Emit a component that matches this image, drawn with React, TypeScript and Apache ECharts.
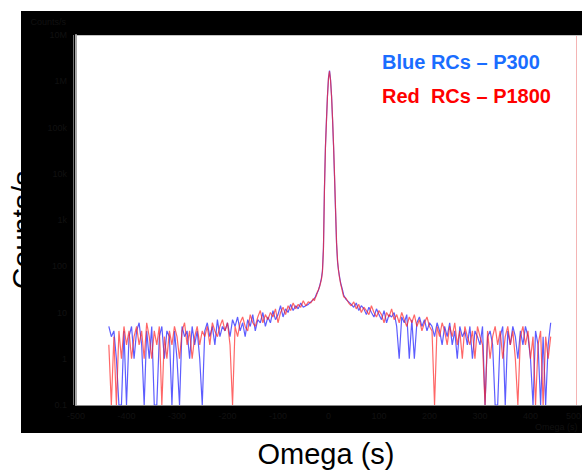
import React, { useEffect, useRef } from "react";
import * as echarts from "echarts";

// x positions (Omega)
const xsLeft = [-435,-430,-425,-420,-415,-410,-405,-400,-395,-390,
  -385,-380,-375,-370,-365,-360,-355,-350,-345,-340,
  -335,-330,-325,-320,-315,-310,-305,-300,-295,-290,
  -285,-280,-275,-270,-265,-260,-255,-250,-245,-240,
  -235,-230,-225,-220,-215,-210,-205,-200,-195,-190,
  -185,-180,-175,-170,-165,-160,-155,-150,-145,-140,
  -135,-130,-125,-120,-115,-110,-105,-100,-95,-90,
  -85,-80,-75,-70,-65,-60,-55,-50,-45,-40,
  -35,-30];
const xsPeak = [-28,-26,-24,-22,-20,-18,-16,-14,-12,-10,-8,-6,-4,-2,0,2,4,6,8,10,12,14,16,18,20,22,24,26,28];
const xsRight = [30,35,40,45,50,55,60,65,70,75,
  80,85,90,95,100,105,110,115,120,125,
  130,135,140,145,150,155,160,165,170,175,
  180,185,190,195,200,205,210,215,220,225,
  230,235,240,245,250,255,260,265,270,275,
  280,285,290,295,300,305,310,315,320,325,
  330,335,340,345,350,355,360,365,370,375,
  380,385,390,395,400,405,410,415,420,425,
  430,435,440];

// Blue RCs – P300 (counts/s)
const blueLeft = [5,3,4,1,0.1,0.1,4,0.1,3,5,
  1,4,6,2,0.1,4,1,5,0.1,0.1,
  3,5,1,4,3,0.1,4,1,0.1,5,
  3,4,1,5,2,4,1,0.1,4,6,
  3,5,2,7,3,5,4,6,3,7,
  5,8,4,6,3,7,5,9,4,7,
  6,10,5,8,6,11,7,9,14,8,
  12,10,15,11,14,12,16,13,14,15,
  17,19];
const bluePeak = [20,22,25,27,30,36,44,55,80,250,5000,40000,150000,500000,1200000,1700000,1100000,500000,150000,40000,8000,1500,300,120,80,58,44,36,30];
const blueRight = [24,19,17,15,13,16,11,14,12,9,
  13,10,8,12,9,7,11,6,9,8,
  10,5,1,8,6,9,1,7,1,6,
  8,5,7,4,6,5,3,6,4,2,
  5,3,6,2,4,1,5,3,4,2,
  5,1,4,3,2,5,0.1,3,4,2,
  0.1,0.1,3,5,0.1,4,2,5,3,1,
  4,2,5,3,1,0.1,4,2,0.1,3,
  0.1,2,6];

// Red RCs – P1800 (counts/s)
const redLeft = [2,0.1,3,0.1,4,1,5,2,4,1,
  3,5,2,4,1,6,3,1,4,2,
  5,0.1,3,1,4,2,5,3,1,4,
  6,2,4,1,3,5,2,4,3,5,
  2,6,4,3,5,7,4,6,2,0.1,
  5,3,6,8,5,4,9,6,5,8,
  11,6,9,7,10,8,12,6,10,13,
  9,14,11,16,12,15,13,18,14,17,
  16,20];
const redPeak = [18,21,23,28,31,35,42,52,75,230,4500,38000,140000,480000,1150000,1650000,1050000,480000,160000,42000,9000,1700,320,130,78,55,42,34,27];
const redRight = [22,20,16,14,17,12,15,10,13,11,
  9,14,10,8,11,9,6,10,8,12,
  7,9,6,10,7,5,8,6,9,5,
  7,4,6,8,5,4,0.1,5,3,6,
  4,2,5,3,6,2,4,1,5,3,
  2,4,1,5,3,2,0.1,4,1,3,
  5,2,4,1,3,5,2,4,1,0.1,
  3,5,2,4,1,3,0.1,2,4,0.1,
  3,1,3];

const yTickLabels = ["0.1", "1", "10", "100", "1k", "10k", "100k", "1M", "10M"];
const xMin = -500;
const xMax = 500;
const xStep = 100;

const seriesNames = ["Blue RCs \u2013 P300", "Red  RCs \u2013 P1800"];

export default function App() {
  const ref = useRef<HTMLDivElement>(null);
  useEffect(() => {
    if (!ref.current) return;
    const chart = echarts.init(ref.current, undefined, { renderer: "svg" });
    const xs = [...xsLeft, ...xsPeak, ...xsRight];
    const blue = [...blueLeft, ...bluePeak, ...blueRight];
    const red = [...redLeft, ...redPeak, ...redRight];
    const font = "Liberation Sans, Arial, Helvetica, sans-serif";
    const dim = "#111111";
    chart.setOption({
      animation: false,
      grid: {
        left: 76,
        right: 1,
        top: 35,
        bottom: 69,
        containLabel: false,
        outerBoundsMode: "none",
      },
      xAxis: {
        type: "value",
        min: xMin,
        max: xMax,
        interval: xStep,
        axisLine: { show: true, onZero: false, lineStyle: { color: "#8a8a8a", width: 1 } },
        axisTick: { show: false },
        splitLine: { show: false },
        axisLabel: {
          color: dim,
          fontSize: 9,
          fontFamily: font,
          margin: 6,
          alignMaxLabel: "right",
        },
      },
      yAxis: {
        type: "log",
        logBase: 10,
        min: 0.1,
        max: 10000000,
        axisLine: { show: true, onZero: false, lineStyle: { color: "#a8a8a8", width: 2 } },
        axisTick: { show: false },
        splitLine: { show: false },
        axisLabel: {
          color: dim,
          fontSize: 9,
          fontFamily: font,
          margin: 9,
          formatter: (_v: number, i: number) => yTickLabels[i] ?? "",
        },
      },
      graphic: [
        {
          type: "text",
          z: -30,
          x: 22,
          y: 230,
          rotation: Math.PI / 2,
          style: {
            text: "Counts/s",
            fill: "#000",
            font: `30px ${font}`,
            textAlign: "center",
            textVerticalAlign: "middle",
          },
        },
        {
          type: "rect",
          z: -20,
          shape: { x: 21, y: 11, width: 600, height: 422 },
          style: { fill: "#000" },
        },
        {
          type: "rect",
          z: -10,
          shape: { x: 77, y: 35, width: 520, height: 370 },
          style: { fill: "#fff" },
        },
        {
          type: "line",
          z: -5,
          shape: { x1: 76, y1: 35.5, x2: 582, y2: 35.5 },
          style: { stroke: "#c4c4c4", lineWidth: 1 },
        },
        {
          type: "line",
          z: -5,
          shape: { x1: 73.5, y1: 35, x2: 73.5, y2: 405 },
          style: { stroke: "#707070", lineWidth: 1 },
        },
        {
          type: "line",
          z: -5,
          shape: { x1: 576.5, y1: 36, x2: 576.5, y2: 405 },
          style: { stroke: "#f4b4b4", lineWidth: 1 },
        },
        {
          type: "text",
          x: 66,
          y: 22,
          style: {
            text: "Counts/s",
            fill: dim,
            font: `9px ${font}`,
            textAlign: "right",
            textVerticalAlign: "middle",
          },
        },
        {
          type: "text",
          x: 535,
          y: 427,
          style: {
            text: "Omega (s)",
            fill: dim,
            font: `9px ${font}`,
            textAlign: "left",
            textVerticalAlign: "middle",
          },
        },
        {
          type: "text",
          x: 382,
          y: 62,
          style: {
            text: seriesNames[0],
            fill: "#1a6dff",
            font: `bold 20px ${font}`,
            textAlign: "left",
            textVerticalAlign: "middle",
          },
        },
        {
          type: "text",
          x: 382,
          y: 96,
          style: {
            text: seriesNames[1],
            fill: "#ff0000",
            font: `bold 20px ${font}`,
            textAlign: "left",
            textVerticalAlign: "middle",
          },
        },
        {
          type: "text",
          x: 326,
          y: 454,
          style: {
            text: "Omega (s)",
            fill: "#000",
            font: `29px ${font}`,
            textAlign: "center",
            textVerticalAlign: "middle",
          },
        },
      ],
      series: [
        {
          name: seriesNames[0],
          type: "line",
          data: xs.map((x, i) => [x, blue[i]]),
          showSymbol: false,
          symbol: "none",
          lineStyle: { color: "#1f1fff", width: 1.2, opacity: 0.72 },
          z: 3,
        },
        {
          name: seriesNames[1],
          type: "line",
          data: xs.map((x, i) => [x, red[i]]),
          showSymbol: false,
          symbol: "none",
          lineStyle: { color: "#ff1f1f", width: 1.2, opacity: 0.68 },
          z: 4,
        },
      ],
    });
    return () => chart.dispose();
  }, []);
  return (
    <div
      ref={ref}
      style={{ position: "fixed", left: 0, top: 0, width: 582, height: 474, background: "#fff" }}
    />
  );
}
